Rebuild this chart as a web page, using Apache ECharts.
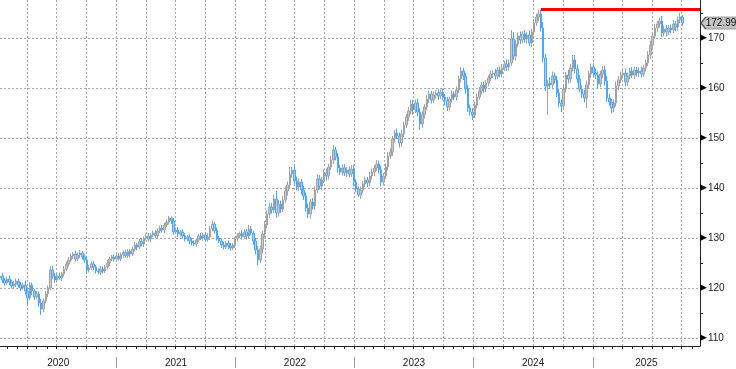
<!DOCTYPE html>
<html><head><meta charset="utf-8">
<script src="https://cdn.jsdelivr.net/npm/echarts@6/dist/echarts.min.js"></script>
<style>html,body{margin:0;padding:0;background:#fff}#c{width:736px;height:369px}</style>
</head><body><div id="c"></div>
<script>
// Weekly closes, first week ending 2020-01-10
const firstOpen = 122.0;
const closes = [
122.4,121.6,121.0,121.8,121.2,120.4,120.8,121.4,120.6,120.0,
120.6,119.4,118.0,120.6,119.4,118.2,118.8,117.0,115.8,117.4,
118.8,120.0,123.6,122.4,121.6,122.4,122.0,122.8,123.8,124.8,
125.6,126.4,126.8,125.8,126.6,127.0,126.2,125.6,123.6,124.0,
124.8,124.2,123.4,123.2,123.8,123.4,124.2,125.0,125.8,126.2,
125.8,126.4,125.9,126.6,127.1,126.5,127.3,126.8,127.8,128.6,
128.2,129.3,128.8,129.9,130.4,129.8,130.6,131.0,130.5,131.4,
132.0,131.6,132.6,133.2,134.0,133.4,131.2,131.6,130.8,131.2,
130.4,129.8,130.2,129.4,129.0,128.8,129.6,130.4,130.0,130.6,
129.7,130.2,131.8,132.8,131.5,130.0,129.4,128.6,128.2,129.0,
128.4,128.0,128.6,129.8,130.4,130.9,130.3,131.2,130.4,131.8,
131.0,129.4,127.6,125.6,127.8,130.8,132.6,134.8,136.2,135.6,
137.8,135.0,136.8,135.8,137.6,139.4,140.6,142.8,143.6,141.4,
140.2,141.2,139.6,138.4,136.0,134.8,137.2,136.4,139.6,141.8,
140.4,141.6,143.0,142.4,144.2,145.6,147.6,146.2,144.0,143.2,
144.0,143.0,143.6,142.8,143.8,141.2,139.8,138.6,139.6,140.8,
141.6,141.0,142.4,143.2,144.0,144.8,143.6,141.2,142.4,144.2,
146.4,147.2,149.8,151.0,150.4,149.0,150.8,152.6,154.2,155.4,
156.8,155.6,157.0,155.2,152.8,154.6,156.2,157.8,158.8,157.6,
158.6,159.0,158.4,159.2,158.2,157.4,156.2,157.8,158.8,158.2,
159.6,161.8,163.4,162.4,159.8,156.0,155.2,154.6,156.6,158.2,
159.4,160.6,159.8,161.0,162.0,162.8,163.0,162.4,163.6,162.8,
164.0,164.8,164.2,165.0,169.8,166.4,168.8,170.4,169.6,170.8,
169.8,170.6,169.0,171.2,173.0,174.2,174.8,172.0,166.0,160.4,
161.0,160.6,162.4,161.6,159.0,157.0,156.4,159.8,162.6,161.8,
164.0,165.6,163.8,161.8,159.8,158.8,158.0,160.6,162.8,164.2,
163.0,162.6,160.8,162.8,163.6,161.4,158.0,157.2,156.0,157.0,
160.4,161.6,162.6,163.0,161.2,162.4,163.4,162.6,163.6,163.0,
163.4,162.8,164.0,165.0,166.6,168.6,170.4,172.0,172.8,173.4,
171.0,171.8,171.2,172.0,171.6,172.8,172.2,173.6,174.2,172.99
];
// upper wick above max(open,close)
const wickUp = [
0.5,0.6,0.4,0.5,0.7,0.4,0.6,0.5,0.4,0.6,
0.5,0.9,0.7,0.6,0.5,0.4,0.6,0.5,0.8,0.5,
0.6,0.5,0.8,0.9,0.6,0.5,0.7,0.4,0.6,0.5,
0.6,0.5,0.4,0.7,0.5,0.6,0.4,0.5,0.7,0.6,
0.5,0.6,0.4,0.5,0.6,0.5,0.4,0.6,0.5,0.4,
0.5,0.4,0.6,0.5,0.4,0.6,0.5,0.4,0.5,0.6,
0.4,0.5,0.6,0.4,0.5,0.6,0.4,0.5,0.6,0.5,
0.5,0.6,0.4,0.5,0.4,0.3,0.6,0.5,0.6,0.4,
0.5,0.6,0.4,0.5,0.6,0.5,0.4,0.5,0.6,0.4,
0.5,0.8,0.6,0.7,0.5,0.6,0.4,0.5,0.6,0.4,
0.5,0.6,0.4,0.5,0.6,0.4,0.7,0.5,0.6,0.8,
0.6,0.5,0.6,0.8,0.7,0.6,0.8,0.7,0.9,0.8,
0.9,1.6,0.8,0.7,0.8,0.9,0.7,1.4,0.6,0.8,
0.9,0.7,0.6,0.8,0.7,0.9,0.6,0.8,0.7,0.9,
0.8,0.6,0.7,0.9,0.6,0.8,1.0,0.7,0.8,0.6,
0.7,0.8,0.6,0.7,0.8,0.9,0.6,0.5,0.7,0.6,
0.7,0.6,0.8,0.7,0.6,0.8,0.7,0.9,0.6,0.7,
0.8,0.7,0.6,0.6,0.9,0.7,0.8,0.7,0.6,0.8,
0.9,0.8,0.7,0.9,0.8,0.7,0.6,0.8,0.7,0.6,
0.7,0.6,0.8,0.5,0.7,0.6,0.8,0.5,0.7,0.6,
0.7,0.6,0.8,0.7,0.6,0.9,0.7,0.8,0.6,0.7,
0.8,0.6,0.7,0.6,0.5,0.7,0.6,0.8,0.6,0.7,
0.8,0.6,0.9,0.7,1.8,1.4,0.8,0.7,0.9,0.6,
0.8,0.7,0.9,0.6,0.8,0.7,0.8,0.9,1.2,0.8,
0.6,1.2,0.9,0.7,0.8,0.9,0.7,0.8,0.6,1.0,
0.8,1.0,1.0,0.9,0.8,0.7,0.8,0.9,0.6,0.7,
0.8,0.9,0.7,0.6,0.8,0.9,1.0,0.8,0.6,0.7,
0.9,0.8,0.7,0.6,0.9,0.7,0.6,0.8,0.7,0.6,
0.7,0.8,0.6,0.7,0.8,0.9,0.7,0.8,0.6,0.7,
1.0,0.7,0.8,0.6,0.7,0.8,0.6,0.7,0.8,0.4
];
// lower wick below min(open,close)
const wickDown = [
0.5,0.6,0.5,0.4,0.6,0.5,0.4,0.6,0.5,0.6,
0.4,0.7,1.4,0.5,0.8,0.6,0.5,0.7,1.2,0.6,
0.5,0.6,0.4,0.5,0.6,0.5,0.4,0.6,0.5,0.4,
0.5,0.4,0.6,0.5,0.4,0.6,0.5,0.6,0.8,0.5,
0.4,0.6,0.5,0.4,0.6,0.5,0.4,0.5,0.6,0.4,
0.5,0.6,0.4,0.5,0.6,0.4,0.5,0.6,0.4,0.5,
0.6,0.4,0.5,0.6,0.4,0.5,0.6,0.4,0.5,0.6,
0.4,0.5,0.6,0.4,0.5,0.6,0.5,0.4,0.6,0.5,
0.6,0.5,0.4,0.6,0.5,0.4,0.6,0.5,0.4,0.6,
0.5,0.4,0.6,0.5,0.6,0.5,0.4,0.6,0.5,0.4,
0.6,0.5,0.4,0.6,0.5,0.4,0.6,0.5,0.7,0.6,
0.5,0.8,0.9,1.0,0.6,0.9,0.7,0.6,0.8,0.7,
0.6,0.9,0.7,0.8,0.6,0.7,0.9,0.6,0.8,0.9,
0.7,0.8,0.9,0.8,0.7,0.8,0.9,0.7,0.8,0.6,
0.7,0.8,0.6,0.9,0.7,0.6,0.8,0.7,0.9,0.6,
0.7,0.6,0.8,0.7,0.6,0.9,0.7,0.4,0.8,0.6,
0.7,0.8,0.6,0.7,0.8,0.6,0.7,0.9,0.7,0.6,
0.7,0.6,0.8,0.7,0.6,0.9,0.8,0.7,0.6,0.8,
0.7,0.9,0.6,0.8,1.2,0.8,0.7,0.6,0.8,0.7,
0.6,0.7,0.8,0.6,0.7,0.9,0.8,0.6,0.7,0.6,
0.7,0.6,0.7,0.8,0.9,0.8,0.7,1.0,0.6,0.7,
0.6,0.7,0.8,0.6,0.7,0.6,0.8,0.7,0.6,0.7,
0.7,0.6,0.8,0.7,0.6,0.8,0.9,0.7,0.8,0.6,
0.7,0.9,0.6,0.8,0.7,0.6,0.8,0.7,0.9,1.0,
5.8,0.8,0.9,0.7,0.8,0.9,1.2,0.8,0.7,0.9,
0.8,0.7,0.9,0.8,0.7,0.8,0.9,2.0,0.7,0.8,
0.7,0.8,0.9,0.7,0.8,0.9,0.8,0.7,1.0,0.8,
0.7,0.8,0.6,0.7,0.9,0.8,0.7,0.6,0.8,0.7,
0.8,0.7,0.6,0.7,0.6,0.8,0.7,0.6,0.8,0.7,
0.8,0.7,0.9,0.6,0.7,0.6,0.8,0.7,0.6,0.5
];
const yMajorTicks = [110,120,130,140,150,160,170];
const yMinorTicks = [110,115,120,125,130,135,140,145,150,155,160,165,170,175];
const yearLabels = [2020,2021,2022,2023,2024,2025];

const DAY = 864e5;
const firstWeek = Date.UTC(2020,0,10);
const xMin = Date.UTC(2020,0,9,12), xMax = Date.UTC(2025,10,26);
const yMin = 108.4, yMax = 177.6;

const candles = closes.map((c, i) => {
  const o = i ? closes[i-1] : firstOpen;
  const hi = +(Math.max(o, c) + wickUp[i]).toFixed(2);
  const lo = +(Math.min(o, c) - wickDown[i]).toFixed(2);
  return [firstWeek + i*7*DAY, o, c, lo, hi];
});
let peakIdx = 0;
candles.forEach((d, i) => { if (d[4] > candles[peakIdx][4]) peakIdx = i; });
const peak = candles[peakIdx];
const last = closes[closes.length-1];

const months = [], quarters = [], yearStarts = [], yearMids = [];
for (let y = 2020; y <= 2026; y++) {
  for (let m = 0; m < 12; m++) {
    const t = Date.UTC(y, m, 1);
    if (t >= xMin && t <= xMax) { months.push(t); if (m % 3 === 0) quarters.push(t); }
  }
  const ys = Date.UTC(y,0,1);
  if (ys > xMin && ys < xMax) yearStarts.push(ys);
}
yearLabels.forEach(y => {
  const a = Math.max(xMin, Date.UTC(y,0,1)), b = Math.min(xMax, Date.UTC(y+1,0,1));
  yearMids.push((a+b)/2);
});

const FONT = '"Liberation Sans", Arial, sans-serif';
const dotted = { color: '#a8a8a8', width: 1, type: [2, 2] };
const baseX = { type: 'value', min: xMin, max: xMax, gridIndex: 0 };
const baseY = { type: 'value', min: yMin, max: yMax, position: 'right', gridIndex: 0 };

const chart = echarts.init(document.getElementById('c'), null, { renderer: 'canvas' });
chart.setOption({
  animation: false,
  backgroundColor: '#fff',
  grid: { left: 0, right: 36, top: 0, height: 346, containLabel: false },
  xAxis: [
    Object.assign({}, baseX, {
      position: 'bottom',
      axisLine: { show: true, onZero: false, lineStyle: { color: '#222', width: 1 } },
      axisTick: { show: true, customValues: months, length: 3, lineStyle: { color: '#222' } },
      axisLabel: { show: false }, splitLine: { show: false }
    }),
    Object.assign({}, baseX, {
      position: 'bottom',
      axisLine: { show: false, onZero: false },
      axisTick: { show: false, customValues: quarters },
      axisLabel: { show: false },
      splitLine: { show: true, lineStyle: dotted }
    }),
    Object.assign({}, baseX, {
      position: 'bottom', offset: 11,
      axisLine: { show: false, onZero: false },
      axisTick: { show: true, customValues: yearStarts, length: 11, lineStyle: { color: '#999' } },
      axisLabel: { show: true, customValues: yearMids, margin: 1, fontSize: 10, fontFamily: FONT, color: '#222',
        formatter: v => String(new Date(v).getUTCFullYear()) },
      splitLine: { show: false }
    })
  ],
  yAxis: [
    Object.assign({}, baseY, {
      axisLine: { show: true, onZero: false, lineStyle: { color: '#222', width: 1 } },
      axisTick: { show: true, customValues: yMinorTicks, length: 3, lineStyle: { color: '#222' } },
      axisLabel: { show: false }, splitLine: { show: false }
    }),
    Object.assign({}, baseY, {
      axisLine: { show: false, onZero: false },
      axisTick: { show: false, customValues: yMajorTicks },
      axisLabel: { show: true, customValues: yMajorTicks, margin: 0, fontFamily: FONT,
        formatter: v => '{a|▶}{b|' + v + '}',
        rich: { a: { fontSize: 9, color: '#000', fontFamily: '"DejaVu Sans"' },
                b: { fontSize: 10, color: '#222', fontFamily: FONT, padding: [0,0,0,1] } } },
      splitLine: { show: true, lineStyle: dotted }
    })
  ],
  series: [{
    type: 'candlestick',
    xAxisIndex: 0, yAxisIndex: 0,
    barWidth: 2,
    encode: { x: 0, y: [1, 2, 3, 4] },
    dimensions: ['date','open','close','lowest','highest'],
    data: candles,
    itemStyle: { color: '#c8c8c8', borderColor: '#a2a2a2', color0: '#a6d4ff', borderColor0: '#4aa6ff', borderWidth: 1 },
    markLine: {
      silent: true, symbol: 'none', animation: false,
      label: { show: false },
      lineStyle: { color: '#ff0000', width: 3, type: 'solid' },
      data: [[{ coord: [peak[0], peak[4]] }, { coord: [xMax, peak[4]] }]]
    },
    markPoint: {
      silent: true, animation: false,
      data: [{ coord: [xMax, last], value: last }],
      symbol: 'path://M0,6 L5,0 L40,0 L40,12 L5,12 Z',
      symbolSize: [38, 12], symbolKeepAspect: false, symbolOffset: [20, 0],
      itemStyle: { color: '#c4c4c4', borderColor: '#555', borderWidth: 1 },
      label: { show: true, position: 'inside', offset: [1, 0], fontSize: 10, fontFamily: FONT, color: '#111',
        formatter: p => p.value.toFixed(2) }
    }
  }]
});
</script></body></html>
